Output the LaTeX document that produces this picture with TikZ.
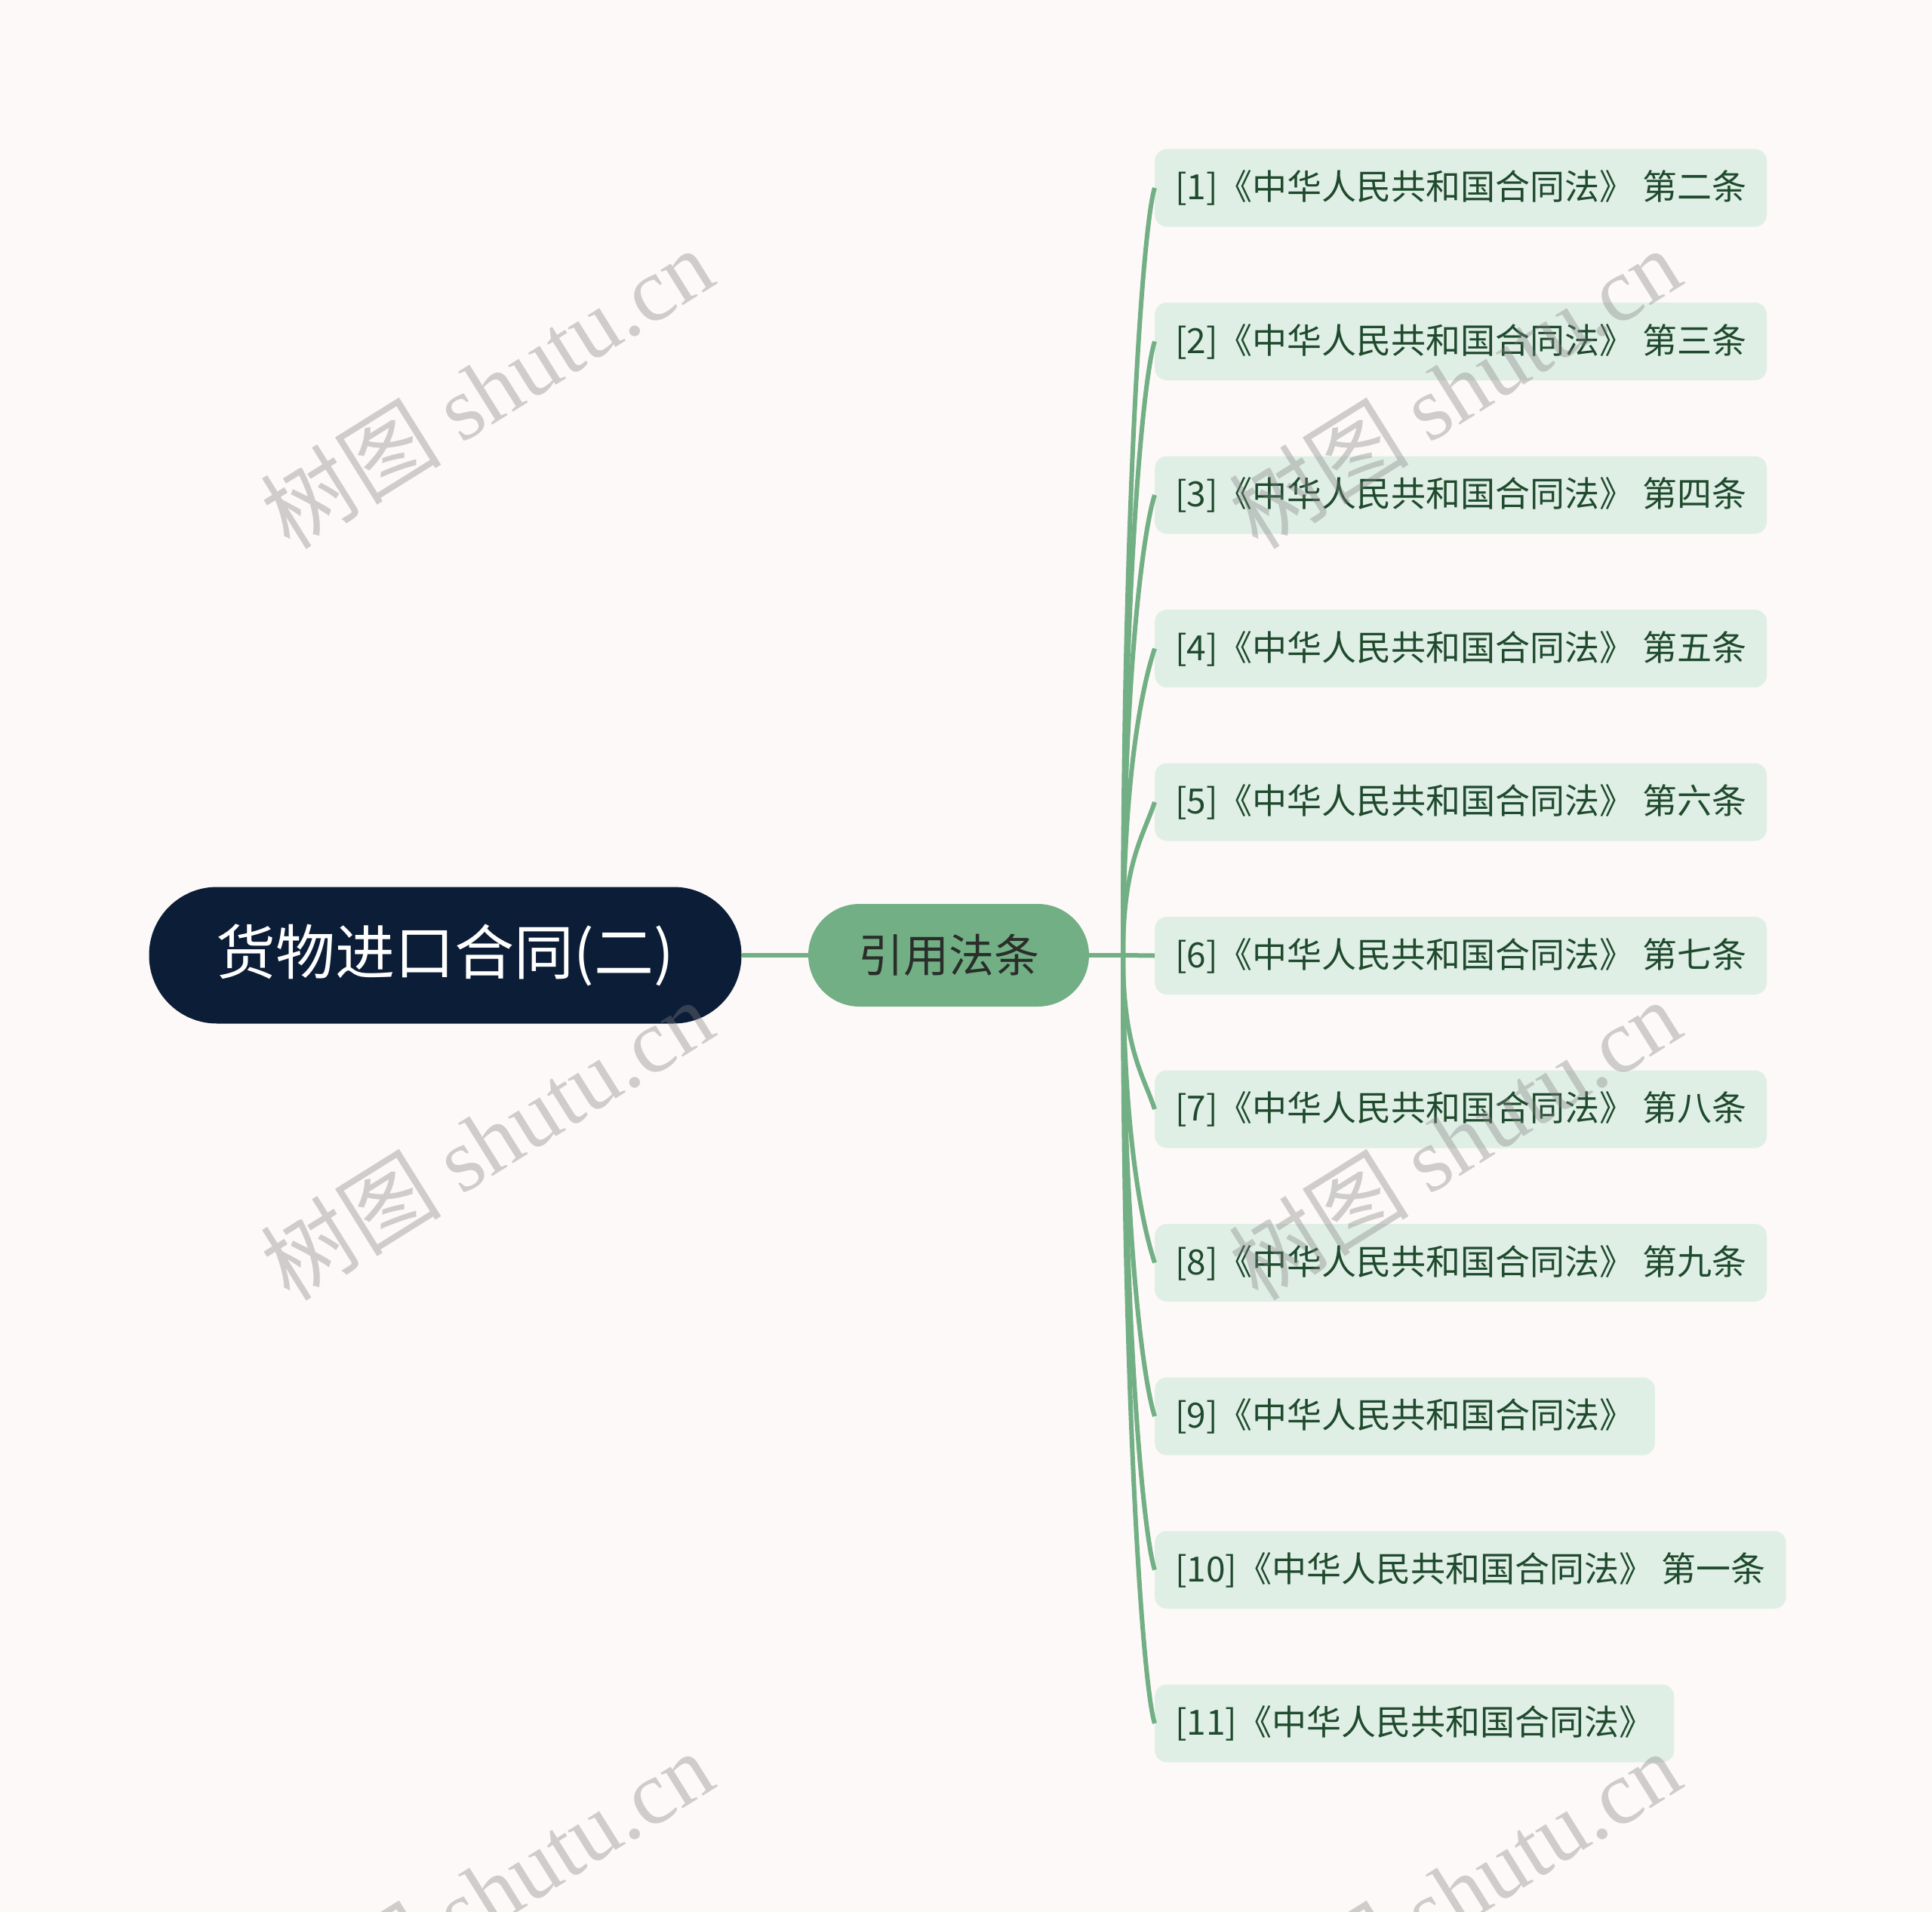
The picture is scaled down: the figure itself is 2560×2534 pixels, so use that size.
\documentclass[tikz,border=0pt]{standalone}
\usepackage{fontspec}
\setmainfont{Noto Sans CJK SC}
\newfontfamily\wmserif{Liberation Serif}
\newfontfamily\wmcjk{Noto Sans CJK SC}
\usetikzlibrary{calc}
\definecolor{bgc}{HTML}{FCF9F8}
\definecolor{rootc}{HTML}{0C1D37}
\definecolor{mainc}{HTML}{72AF84}
\definecolor{maintxt}{HTML}{2A2E2A}
\definecolor{leafc}{HTML}{E0EFE6}
\definecolor{leaftxt}{HTML}{1F4A2D}
\definecolor{linec}{HTML}{72AF84}
\definecolor{wmc}{HTML}{808080}
\begin{document}
\begin{tikzpicture}[x=1pt,y=-1pt,
  rootbox/.style={fill=rootc,text=white,rounded corners=90pt,minimum width=785pt,minimum height=181pt,inner sep=0pt,font=\fontsize{79}{84}\selectfont},
  mainbox/.style={fill=mainc,text=maintxt,rounded corners=68pt,minimum width=372pt,minimum height=136pt,inner sep=0pt,font=\fontsize{60}{64}\selectfont},
  leaf/.style={fill=leafc,text=leaftxt,rounded corners=16pt,minimum height=103pt,inner xsep=27pt,inner ysep=0pt,anchor=west,font=\fontsize{46}{50}\selectfont},
  conn/.style={draw=linec,line width=6pt},
  wm/.style={text=wmc,text opacity=0.36,rotate=32,font=\fontsize{120}{126}\selectfont,inner sep=0pt}]
\useasboundingbox (0,0) rectangle (2560,2534);
\fill[bgc] (0,0) rectangle (2560,2534);

\node[rootbox] (root) at (590,1266) {货物进口合同(二)};
\node[mainbox] (main) at (1257,1266) {引用法条};
\draw[conn] (root.east) -- (main.west);

\coordinate (bp) at (1488,1266);
\draw[conn] (main.east) -- (bp);

\foreach \i/\t in {1/{\ 第二条},2/{\ 第三条},3/{\ 第四条},4/{\ 第五条},5/{\ 第六条},6/{\ 第七条},7/{\ 第八条},8/{\ 第九条},9/{},10/{\ 第一条},11/{}}{
  \pgfmathsetmacro{\yy}{249+203.5*(\i-1)}
  \node[leaf] (c\i) at (1530,\yy) {[\i]《中华人民共和国合同法》\t};
}
\foreach \i in {1,2,3,4,5}{
  \draw[conn] (bp) .. controls ($(bp)!0.6!(bp |- c\i.west)$) and ($(c\i.west)+(-15,45)$) .. (c\i.west);
}
\draw[conn] (bp) -- (c6.west);
\foreach \i in {7,8,9,10,11}{
  \draw[conn] (bp) .. controls ($(bp)!0.6!(bp |- c\i.west)$) and ($(c\i.west)+(-15,-45)$) .. (c\i.west);
}

\begin{scope}
\clip (0,0) rectangle (2560,2534);
\foreach \px in {645,1927}{
  \foreach \py in {514,1510,2506}{
    \node[wm] (w\px\py) at (\px,\py) {{\wmcjk 树图} {\wmserif shutu.cn}};
  }
}
\end{scope}
\end{tikzpicture}
\end{document}
